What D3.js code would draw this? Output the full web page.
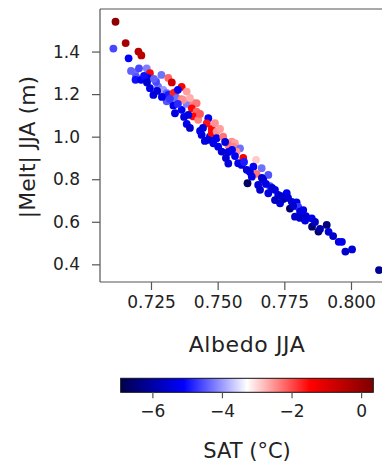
<!DOCTYPE html>
<html>
<head>
<meta charset="utf-8">
<script src="https://cdn.jsdelivr.net/npm/d3@7"></script>
<style>
  html, body { margin: 0; padding: 0; background: #fff; }
  svg { display: block; font-family: "DejaVu Sans", sans-serif; }
</style>
</head>
<body>
<svg id="chart" width="382" height="463"></svg>
<script>
// ---- data ----
const albedo = [0.7117,0.7155,0.7109,0.7203,0.7214,0.7166,0.7190,0.7194,0.7234,0.7246,
  0.7240,0.7192,0.7213,0.7289,0.7315,0.7328,0.7365,0.7340,0.7246,0.7259,
  0.7277,0.7296,0.7309,0.7315,0.7334,0.7351,0.7346,0.7365,0.7309,0.7334,
  0.7340,0.7365,0.7384,0.7409,0.7421,0.7403,0.7421,0.7409,0.7384,0.7427,
  0.7465,0.7459,0.7478,0.7490,0.7440,0.7471,0.7390,0.7384,0.7371,0.7478,
  0.7496,0.7434,0.7465,0.7484,0.7496,0.7521,0.7553,0.7540,0.7565,0.7559,
  0.7584,0.7571,0.7502,0.7515,0.7540,0.7565,0.7596,0.7540,0.7644,0.7590,
  0.7609,0.7634,0.7665,0.7646,0.7690,0.7628,0.7612,0.7652,0.7671,0.7696,
  0.7690,0.7715,0.7727,0.7746,0.7759,0.7778,0.7796,0.7802,0.7771,0.7809,
  0.7790,0.7821,0.7828,0.7853,0.7854,0.7878,0.7909,0.7916,0.7954,0.7966,
  0.7979,0.8004,0.8105,0.7734,0.7577,
  0.7224,0.7269,0.7291,0.7321,0.7351,0.7374,0.7396,0.7434,0.7445,0.7509,
  0.7528,0.7554,0.7599,0.7621,0.7666,0.7681,0.7704,0.7738,0.7764,0.7783,
  0.7831,0.7865,0.7884,0.7933,0.7235,
  0.7175,0.7205,0.7261,0.7273,0.7396,0.7452,0.7531,0.7659,0.7715,0.7809];
const melt = [1.540,1.440,1.414,1.400,1.382,1.368,1.302,1.281,1.321,1.298,
  1.275,1.267,1.267,1.290,1.276,1.255,1.234,1.208,1.228,1.196,
  1.235,1.220,1.204,1.196,1.204,1.220,1.181,1.176,1.166,1.147,
  1.110,1.126,1.154,1.157,1.157,1.133,1.118,1.095,1.060,1.079,
  1.087,1.062,1.036,1.063,1.008,1.000,1.102,1.212,1.173,1.016,
  1.024,1.027,0.985,0.969,0.993,1.000,0.977,0.961,0.969,0.953,
  0.945,0.930,0.953,0.930,0.928,0.909,0.900,0.874,0.891,0.867,
  0.844,0.859,0.852,0.825,0.820,0.812,0.781,0.773,0.797,0.768,
  0.734,0.750,0.726,0.707,0.734,0.694,0.691,0.670,0.662,0.648,
  0.624,0.655,0.606,0.616,0.577,0.554,0.585,0.553,0.506,0.506,
  0.460,0.470,0.373,0.687,0.875,
  1.286,1.258,1.187,1.178,1.154,1.093,1.182,1.107,1.041,1.036,
  0.975,0.938,0.881,0.834,0.806,0.778,0.759,0.721,0.712,0.674,
  0.627,0.599,0.566,0.533,1.255,
  1.309,1.321,1.272,1.215,1.041,0.980,0.900,0.750,0.702,0.618];
const sat = [0.1,-0.2,-4.6,-0.4,-0.5,-5.2,-4.3,-4.5,-4.2,-1.5,
  -5.3,-5.0,-5.2,-4.3,-2.2,-0.8,-1.4,-1.3,-5.3,-5.4,
  -4.3,-4.0,-4.4,-4.9,-1.7,-5.2,-4.3,-2.4,-4.5,-5.3,
  -5.4,-5.2,-4.2,-2.4,-2.3,-1.5,-2.2,-1.5,-5.3,-2.4,
  -5.2,-1.6,-1.5,-2.5,-5.4,-5.3,-5.3,-2.6,-2.5,-1.5,
  -2.5,-5.3,-5.5,-5.3,-5.2,-2.3,-2.5,-2.3,-2.6,-2.4,
  -4.3,-2.5,-5.3,-5.5,-5.4,-5.2,-1.4,-5.4,-2.9,-5.3,
  -5.5,-5.2,-4.3,-2.3,-4.5,-5.3,-6.7,-5.5,-5.2,-4.6,
  -5.4,-5.3,-5.5,-6.3,-5.2,-5.4,-5.3,-4.7,-6.6,-5.4,
  -5.6,-5.3,-5.4,-5.2,-6.5,-6.6,-6.4,-5.5,-5.4,-5.3,
  -5.6,-5.5,-6.2,-5.5,-5.3,
  -5.0,-4.6,-5.3,-4.7,-4.8,-5.4,-2.7,-2.1,-5.5,-2.6,
  -5.4,-5.2,-4.9,-5.4,-5.6,-5.3,-5.5,-5.6,-5.5,-5.6,
  -5.5,-5.7,-6.0,-5.6,-5.6,
  -4.4,-4.6,-4.4,-5.5,-5.6,-5.4,-5.5,-5.6,-5.7,-5.6];
const xTicks = [0.725, 0.750, 0.775, 0.800];
const yTicks = [0.4, 0.6, 0.8, 1.0, 1.2, 1.4];
const cbTicks = [-6, -4, -2, 0];
const satMin = -6.91, satMax = 0.35;
const cmapColors = ["#00004c", "#0000ff", "#ffffff", "#ff0000", "#7f0000"];

// ---- scales ----
const svg = d3.select("#chart");
const x = d3.scaleLinear().domain([0.70588, 0.81163]).range([100, 382]);
const y = d3.scaleLinear().domain([0.317, 1.600]).range([282, 9]);
const col = d3.scaleLinear()
  .domain(d3.range(5).map(i => satMin + i * (satMax - satMin) / 4))
  .range(cmapColors)
  .interpolate(d3.interpolateRgb)
  .clamp(true);

const pts = albedo.map((a, i) => ({a, m: melt[i], t: sat[i]}));

// ---- points ----
svg.append("defs").append("clipPath").attr("id", "clip")
  .append("rect").attr("x", 100).attr("y", 9).attr("width", 290).attr("height", 273);
svg.append("g").attr("clip-path", "url(#clip)")
  .selectAll("circle").data(pts).join("circle")
  .attr("cx", d => x(d.a)).attr("cy", d => y(d.m)).attr("r", 3.9)
  .attr("fill", d => col(d.t));

// ---- axes ----
const axisColor = "#555";
const xAxis = svg.append("g").attr("transform", "translate(0,282)")
  .call(d3.axisBottom(x).tickValues(xTicks).tickFormat(d3.format(".3f")).tickSize(8).tickSizeOuter(0).tickPadding(6));
const yAxis = svg.append("g").attr("transform", "translate(100,0)")
  .call(d3.axisLeft(y).tickValues(yTicks).tickFormat(d3.format(".1f")).tickSize(8).tickSizeOuter(0).tickPadding(12));
[xAxis, yAxis].forEach(g => {
  g.select(".domain").attr("stroke", axisColor).attr("stroke-width", 1.2);
  g.selectAll(".tick line").attr("stroke", axisColor).attr("stroke-width", 1.2);
  g.selectAll(".tick text").attr("fill", "#222").style("font-size", "17px")
    .style("font-family", "'DejaVu Sans', sans-serif");
});
xAxis.select(".domain").attr("d", "M100,0H382");
yAxis.select(".domain").attr("d", "M0,9V282");
// top border
svg.append("line").attr("x1", 100).attr("x2", 382).attr("y1", 9).attr("y2", 9)
  .attr("stroke", axisColor).attr("stroke-width", 1.2);

// axis titles
svg.append("text").attr("x", 247).attr("y", 352).attr("text-anchor", "middle")
  .style("font-size", "22px").style("letter-spacing", "0.6px").attr("fill", "#222")
  .text("Albedo JJA");
svg.append("text").attr("transform", "translate(35,147) rotate(-90)").attr("text-anchor", "middle")
  .style("font-size", "22px").attr("fill", "#222")
  .text("|Melt| JJA (m)");

// ---- colorbar ----
const cb = d3.scaleLinear().domain([satMin, satMax]).range([120.7, 373.3]);
const grad = svg.select("defs").append("linearGradient").attr("id", "cbgrad")
  .attr("x1", "0%").attr("x2", "100%").attr("y1", "0%").attr("y2", "0%");
d3.range(0, 1.0001, 0.05).forEach(f => {
  grad.append("stop").attr("offset", (f * 100) + "%")
    .attr("stop-color", col(satMin + f * (satMax - satMin)));
});
svg.append("rect").attr("x", cb.range()[0]).attr("y", 378.3)
  .attr("width", cb.range()[1] - cb.range()[0]).attr("height", 14)
  .attr("fill", "url(#cbgrad)").attr("stroke", "#111").attr("stroke-width", 1);
const cbAxis = svg.append("g").attr("transform", "translate(0,392.3)")
  .call(d3.axisBottom(cb).tickValues(cbTicks).tickFormat(d => d < 0 ? "\u2212" + Math.abs(d) : d).tickSize(6).tickPadding(7));
cbAxis.select(".domain").remove();
cbAxis.selectAll(".tick line").attr("stroke", "#555").attr("stroke-width", 1.2);
cbAxis.selectAll(".tick text").attr("fill", "#222").style("font-size", "17px")
  .style("font-family", "'DejaVu Sans', sans-serif");
svg.append("text").attr("x", 247).attr("y", 458).attr("text-anchor", "middle")
  .style("font-size", "21px").attr("fill", "#222")
  .text("SAT (\u00B0C)");
</script>
</body>
</html>
